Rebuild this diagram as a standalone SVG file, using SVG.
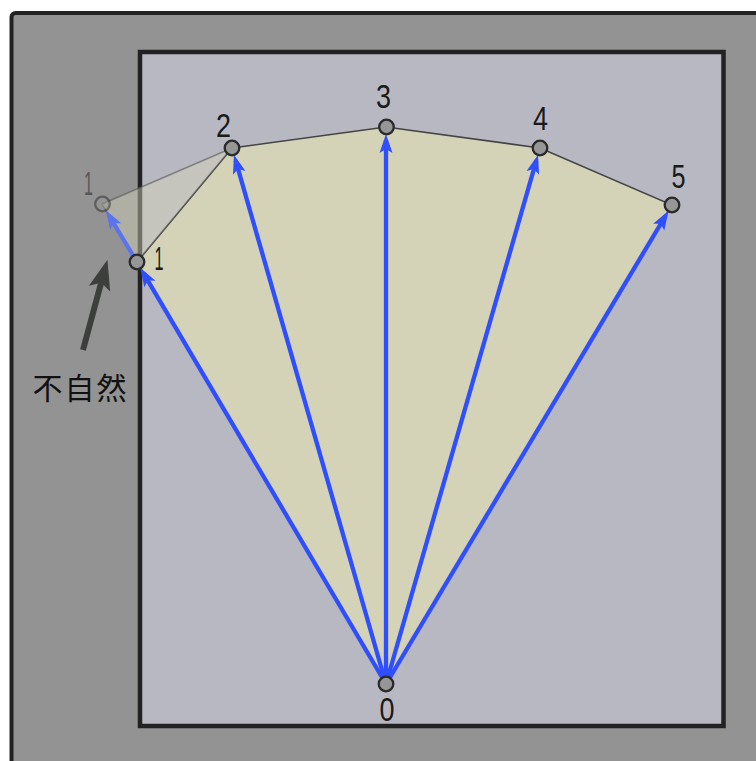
<svg xmlns="http://www.w3.org/2000/svg" width="756" height="761" viewBox="0 0 756 761">
<defs>
<style>
.lbl{font-family:"Liberation Sans","DejaVu Sans",sans-serif;font-size:34px;fill:#1a1a1a;text-anchor:middle}
.pt{fill:#969696;stroke:#2a2a2a;stroke-width:2.3}
.vec{stroke:#2f4fff;stroke-width:4.3;fill:none}
</style>
<marker id="bh" markerUnits="userSpaceOnUse" viewBox="0 -8 19 16" refX="13" refY="0" markerWidth="19" markerHeight="16" orient="auto">
<path d="M0,-6.5 L19,0 L0,6.5 L4,0 Z" fill="#2f4fff"/>
</marker>
<marker id="gh" markerUnits="userSpaceOnUse" viewBox="0 -8 19 16" refX="13" refY="0" markerWidth="19" markerHeight="16" orient="auto">
<path d="M0,-6.5 L19,0 L0,6.5 L4,0 Z" fill="#5a74f0"/>
</marker>
<marker id="dh" markerUnits="userSpaceOnUse" viewBox="0 -12 30 24" refX="20" refY="0" markerWidth="30" markerHeight="24" orient="auto">
<path d="M0,-11 L30,0 L0,11 L6,0 Z" fill="#3d3f3d"/>
</marker>
</defs>
<rect x="0" y="0" width="756" height="761" fill="#ffffff"/>
<rect id="outer" x="11.5" y="13" width="800" height="800" rx="4" fill="#939393" stroke="#222" stroke-width="4"/>
<rect id="inner" x="140" y="52" width="583.5" height="674" fill="#b8b8c2" stroke="#222" stroke-width="4.5"/>
<g id="shape">
<polygon points="386,684 137,262 232,148 386,127 540,148 672,205" fill="#d4d3b8" stroke="#444" stroke-width="1.6"/>
<polygon points="102,204 232,148 137,262" fill="#d4d3b8" fill-opacity="0.45" stroke="#555" stroke-opacity="0.6" stroke-width="1.4"/>
</g>
<g id="connectors">
<line class="vec" x1="386" y1="684" x2="143.3" y2="272.8" marker-end="url(#bh)"/>
<line class="vec" x1="386" y1="684" x2="235.6" y2="160.4" marker-end="url(#bh)"/>
<line class="vec" x1="386" y1="684" x2="386" y2="140.0" marker-end="url(#bh)"/>
<line class="vec" x1="386" y1="684" x2="536.4" y2="160.4" marker-end="url(#bh)"/>
<line class="vec" x1="386" y1="684" x2="665.4" y2="216.0" marker-end="url(#bh)"/>
<line x1="133.4" y1="256" x2="109" y2="215.5" stroke="#5a74f0" stroke-width="4.3" marker-end="url(#gh)"/>
<line x1="83" y1="350" x2="104.8" y2="269.3" stroke="#3d3f3d" stroke-width="6" marker-end="url(#dh)"/>
</g>
<g id="p0"><circle class="pt" cx="386" cy="684" r="7.3"/><text class="lbl" x="387" y="721" textLength="15" lengthAdjust="spacingAndGlyphs">0</text></g>
<g id="p1ghost" opacity="0.5"><circle cx="102.5" cy="204" r="7.3" fill="#969696" stroke="#2a2a2a" stroke-width="2.3"/><text class="lbl" x="88.5" y="195" textLength="9" lengthAdjust="spacingAndGlyphs">1</text></g>
<g id="p1"><circle class="pt" cx="137" cy="262" r="7.3"/><text class="lbl" x="159" y="270" textLength="9" lengthAdjust="spacingAndGlyphs">1</text></g>
<g id="p2"><circle class="pt" cx="232" cy="148" r="7.3"/><text class="lbl" x="223.5" y="137" textLength="15" lengthAdjust="spacingAndGlyphs">2</text></g>
<g id="p3"><circle class="pt" cx="386.5" cy="127" r="7.3"/><text class="lbl" x="383.5" y="108" textLength="15" lengthAdjust="spacingAndGlyphs">3</text></g>
<g id="p4"><circle class="pt" cx="540" cy="148" r="7.3"/><text class="lbl" x="540.5" y="130" textLength="15" lengthAdjust="spacingAndGlyphs">4</text></g>
<g id="p5"><circle class="pt" cx="672" cy="205" r="7.3"/><text class="lbl" x="678.5" y="188" textLength="14" lengthAdjust="spacingAndGlyphs">5</text></g>
<g id="note"><text x="80.5" y="399" font-family="'Noto Sans CJK JP','Noto Sans CJK SC',sans-serif" font-size="30" fill="#111" text-anchor="middle" letter-spacing="2">不自然</text></g>
</svg>
